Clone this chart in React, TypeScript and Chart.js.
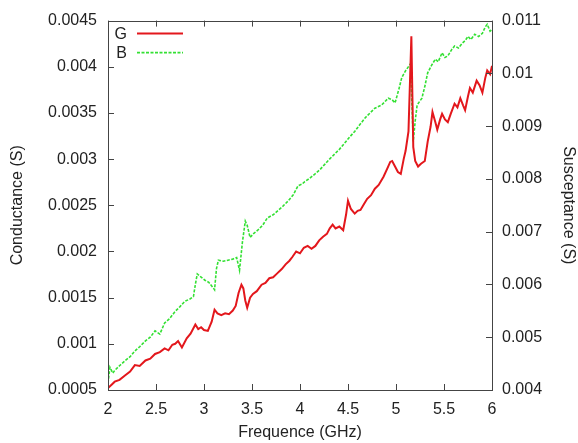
import React, { useEffect, useRef } from "react";
import { Chart, registerables } from "chart.js";

Chart.register(...registerables);

// Frequency (GHz) / conductance G (S), left axis
const gFreq = [
  2.0, 2.04, 2.07, 2.12, 2.18, 2.23, 2.28, 2.33, 2.39, 2.44, 2.49, 2.54, 2.59, 2.63, 2.67, 2.7, 2.73, 2.77,
  2.82, 2.86, 2.91, 2.94, 2.97, 3.0, 3.04, 3.08, 3.11, 3.14, 3.18, 3.22, 3.26, 3.3, 3.33, 3.36, 3.39, 3.41,
  3.43, 3.45, 3.48, 3.51, 3.55, 3.6, 3.64, 3.68, 3.72, 3.76, 3.81, 3.85, 3.89, 3.92, 3.96, 4.0, 4.04, 4.08,
  4.12, 4.16, 4.2, 4.24, 4.28, 4.31, 4.34, 4.37, 4.41, 4.45, 4.48, 4.5, 4.53, 4.57, 4.6, 4.63, 4.67, 4.7,
  4.74, 4.78, 4.82, 4.87, 4.91, 4.94, 4.96, 4.99, 5.02, 5.05, 5.08, 5.1, 5.13, 5.16, 5.18, 5.2, 5.23, 5.26,
  5.3, 5.33, 5.36, 5.38, 5.41, 5.43, 5.46, 5.48, 5.51, 5.54, 5.57, 5.61, 5.64, 5.67, 5.7, 5.72, 5.75, 5.77,
  5.8, 5.84, 5.87, 5.9, 5.93, 5.95, 5.98, 6.0,
];
const gValues = [
  0.00052, 0.00056, 0.00059, 0.00061, 0.00066, 0.0007, 0.00077, 0.00076, 0.00082, 0.00084, 0.00089, 0.00091,
  0.00095, 0.00093, 0.00099, 0.001, 0.00103, 0.00096, 0.00106, 0.00111, 0.00121, 0.00116, 0.00118, 0.00115,
  0.00114, 0.00124, 0.00137, 0.00133, 0.00131, 0.00133, 0.00132, 0.00136, 0.00141, 0.00155, 0.00164, 0.0016,
  0.00147, 0.00139, 0.0015, 0.00154, 0.00157, 0.00164, 0.00166, 0.00171, 0.00172, 0.00176, 0.00181, 0.00186,
  0.0019, 0.00194, 0.002, 0.00198, 0.00204, 0.00206, 0.00203, 0.00206, 0.00212, 0.00216, 0.00219, 0.00225,
  0.00229, 0.00225, 0.00227, 0.00223, 0.0024, 0.00255, 0.00246, 0.00241, 0.00244, 0.00245, 0.00252, 0.00257,
  0.00261, 0.00268, 0.00272, 0.00281, 0.0029, 0.00297, 0.00298, 0.00292, 0.00286, 0.00284, 0.003, 0.00309,
  0.0033, 0.00433, 0.00313, 0.00298, 0.00292, 0.00295, 0.00298, 0.00319, 0.00335, 0.00351, 0.0034, 0.00332,
  0.00343, 0.00349, 0.00343, 0.0034, 0.00349, 0.0036, 0.00356, 0.00366, 0.00358, 0.00353, 0.00368, 0.00377,
  0.00372, 0.00385, 0.0038, 0.00372, 0.00388, 0.00396, 0.00392, 0.00401,
];

// Frequency (GHz) / susceptance B (S), right axis
const bFreq = [
  2.0, 2.02, 2.05, 2.07, 2.12, 2.18, 2.23, 2.28, 2.33, 2.39, 2.44, 2.49, 2.54, 2.59, 2.64, 2.7, 2.75, 2.8,
  2.85, 2.89, 2.91, 2.93, 2.97, 3.01, 3.05, 3.09, 3.11, 3.13, 3.15, 3.2, 3.25, 3.3, 3.34, 3.37, 3.4, 3.43,
  3.45, 3.48, 3.52, 3.56, 3.61, 3.66, 3.72, 3.77, 3.82, 3.88, 3.93, 3.98, 4.02, 4.05, 4.1, 4.16, 4.21, 4.26,
  4.31, 4.36, 4.41, 4.47, 4.52, 4.57, 4.62, 4.68, 4.73, 4.78, 4.85, 4.92, 4.96, 4.99, 5.03, 5.06, 5.1, 5.15,
  5.18, 5.2, 5.22, 5.27, 5.3, 5.33, 5.37, 5.41, 5.44, 5.48, 5.51, 5.54, 5.58, 5.61, 5.65, 5.69, 5.72, 5.75,
  5.78, 5.82, 5.86, 5.9, 5.93, 5.95, 5.98, 6.0,
];
const bValues = [
  0.00413, 0.00443, 0.00432, 0.00437, 0.00446, 0.00456, 0.00463, 0.00474, 0.00482, 0.00493, 0.005, 0.00512,
  0.00506, 0.00527, 0.00535, 0.00549, 0.00558, 0.00568, 0.00572, 0.00577, 0.006, 0.0062, 0.00614, 0.00608,
  0.00604, 0.00595, 0.0059, 0.0063, 0.00646, 0.00644, 0.00646, 0.00648, 0.00651, 0.00627, 0.0068, 0.0072,
  0.00712, 0.00689, 0.00697, 0.00703, 0.00712, 0.00726, 0.00732, 0.0074, 0.00748, 0.00759, 0.0077, 0.00787,
  0.0079, 0.00795, 0.00801, 0.0081, 0.00818, 0.00828, 0.00838, 0.00847, 0.00856, 0.00869, 0.0088, 0.0089,
  0.00902, 0.00916, 0.00925, 0.00934, 0.0094, 0.00953, 0.0095, 0.00944, 0.0097, 0.00992, 0.01005, 0.01018,
  0.00871, 0.0091, 0.0094, 0.00953, 0.00975, 0.01001, 0.01015, 0.01027, 0.01022, 0.01039, 0.0103, 0.01033,
  0.01045, 0.01052, 0.01048, 0.01057, 0.01062, 0.0107, 0.01064, 0.01074, 0.0107, 0.01076, 0.01088, 0.01093,
  0.0108, 0.01083,
];

const freqTicks = [2, 2.5, 3, 3.5, 4, 4.5, 5, 5.5, 6];
const conductanceTicks = [0.0005, 0.001, 0.0015, 0.002, 0.0025, 0.003, 0.0035, 0.004, 0.0045];
const susceptanceTicks = [0.004, 0.005, 0.006, 0.007, 0.008, 0.009, 0.01, 0.011];

const FONT = '"Liberation Sans", Arial, Helvetica, sans-serif';
const TEXT = "#222222";
const RED = "#e3171c";
const GREEN = "#33e033";

const framePlugin = {
  id: "frameAndLegend",
  afterDatasetsDraw(chart: any) {
    const { ctx, chartArea: a, scales } = chart;
    ctx.save();
    ctx.strokeStyle = "#444444";
    ctx.lineWidth = 1;
    ctx.strokeRect(Math.round(a.left) + 0.5, Math.round(a.top) + 0.5, Math.round(a.right - a.left), Math.round(a.bottom - a.top));
    const L = 6;
    ctx.beginPath();
    for (const v of freqTicks) {
      const x = Math.round(scales.x.getPixelForValue(v)) + 0.5;
      ctx.moveTo(x, a.bottom);
      ctx.lineTo(x, a.bottom - L);
      ctx.moveTo(x, a.top);
      ctx.lineTo(x, a.top + L);
    }
    for (const v of conductanceTicks) {
      const y = Math.round(scales.y.getPixelForValue(v)) + 0.5;
      ctx.moveTo(a.left, y);
      ctx.lineTo(a.left + L, y);
    }
    for (const v of susceptanceTicks) {
      const y = Math.round(scales.y2.getPixelForValue(v)) + 0.5;
      ctx.moveTo(a.right, y);
      ctx.lineTo(a.right - L, y);
    }
    ctx.stroke();

    // key (gnuplot style: label, then line sample)
    const ds = chart.data.datasets;
    ctx.font = `16px ${FONT}`;
    ctx.textAlign = "right";
    ctx.textBaseline = "middle";
    const textRight = a.left + 19;
    const lineStart = a.left + 29;
    const lineEnd = a.left + 75;
    ds.forEach((d: any, i: number) => {
      const y = a.top + 13 + i * 19;
      ctx.fillStyle = TEXT;
      ctx.fillText(d.label, textRight, y + 1);
      ctx.strokeStyle = d.borderColor;
      ctx.lineWidth = d.borderWidth;
      ctx.setLineDash(d.borderDash || []);
      ctx.beginPath();
      ctx.moveTo(lineStart, y);
      ctx.lineTo(lineEnd, y);
      ctx.stroke();
      ctx.setLineDash([]);
    });
    ctx.restore();
  },
};

export default function App() {
  const ref = useRef<HTMLCanvasElement | null>(null);

  useEffect(() => {
    if (!ref.current) return;
    const gData = gFreq.map((f, i) => ({ x: f, y: gValues[i] }));
    const bData = bFreq.map((f, i) => ({ x: f, y: bValues[i] }));
    const tickFont = { family: FONT, size: 16 };
    const chart = new Chart(ref.current, {
      type: "line",
      data: {
        datasets: [
          {
            label: "G",
            data: gData,
            yAxisID: "y",
            borderColor: RED,
            borderWidth: 2,
            pointRadius: 0,
            tension: 0,
            order: 0,
          },
          {
            label: "B",
            data: bData,
            yAxisID: "y2",
            borderColor: GREEN,
            borderWidth: 1.6,
            borderDash: [3, 1.5],
            pointRadius: 0,
            tension: 0,
            order: 1,
          },
        ],
      },
      options: {
        responsive: false,
        animation: false,
        devicePixelRatio: 1,
        layout: { padding: { top: 14, left: 0, right: 0, bottom: 0 } },
        plugins: { legend: { display: false }, tooltip: { enabled: false } },
        scales: {
          x: {
            type: "linear",
            min: 2,
            max: 6,
            afterBuildTicks: (s: any) => {
              s.ticks = freqTicks.map((v) => ({ value: v }));
            },
            afterFit: (s: any) => {
              s.height = 53;
            },
            ticks: { font: tickFont, color: TEXT, padding: 10, maxRotation: 0, autoSkip: false, callback: (v: any) => String(v) },
            grid: { display: false, drawTicks: false },
            border: { display: false },
            title: { display: true, text: "Frequence (GHz)", font: tickFont, color: TEXT, padding: { top: 0, bottom: 1 } },
          },
          y: {
            type: "linear",
            position: "left",
            min: 0.0005,
            max: 0.0045,
            afterBuildTicks: (s: any) => {
              s.ticks = conductanceTicks.map((v) => ({ value: v }));
            },
            afterFit: (s: any) => {
              s.width = 108;
            },
            ticks: { font: tickFont, color: TEXT, padding: 11, autoSkip: false, callback: (v: any) => String(v) },
            grid: { display: false, drawTicks: false },
            border: { display: false },
            title: { display: true, text: "Conductance (S)", font: tickFont, color: TEXT, padding: { top: 8, bottom: 0 } },
          },
          y2: {
            type: "linear",
            position: "right",
            min: 0.004,
            max: 0.011,
            afterBuildTicks: (s: any) => {
              s.ticks = susceptanceTicks.map((v) => ({ value: v }));
            },
            afterFit: (s: any) => {
              s.width = 86;
            },
            ticks: { font: tickFont, color: TEXT, padding: 10, autoSkip: false, callback: (v: any) => String(v) },
            grid: { display: false, drawTicks: false },
            border: { display: false },
            title: { display: true, text: "Susceptance (S)", font: tickFont, color: TEXT, padding: { top: 0, bottom: 0 } },
          },
        },
      },
      plugins: [framePlugin],
    } as any);
    return () => chart.destroy();
  }, []);

  return (
    <div style={{ position: "fixed", left: 0, top: 0, width: 578, height: 443, background: "#ffffff" }}>
      <canvas ref={ref} width={578} height={443} style={{ display: "block", width: 578, height: 443 }} />
    </div>
  );
}
